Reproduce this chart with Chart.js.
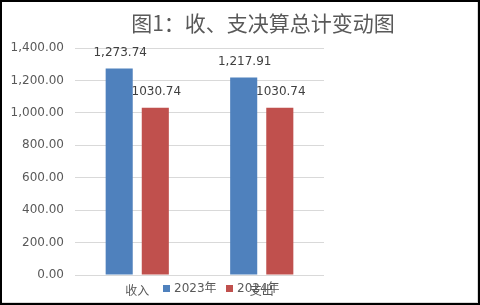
<!DOCTYPE html>
<html>
<head>
<meta charset="utf-8">
<script src="https://cdn.jsdelivr.net/npm/chart.js@4"></script>
<style>
  html, body { margin: 0; padding: 0; background: #fff; }
  #wrap { position: relative; width: 480px; height: 305px; }
  #frame {
    position: absolute; left: 0; top: 0; width: 480px; height: 305px;
    box-sizing: border-box; border: 2px solid #000; pointer-events: none;
    box-shadow: inset -1px -1px 0 #d9d9d9;
  }
</style>
</head>
<body>
<div id="wrap">
  <canvas id="chart" width="480" height="305"></canvas>
  <div id="frame"></div>
</div>
<script>
// chart data
const titleText = '图1：收、支决算总计变动图';
const categories = ['收入', '支出'];
const seriesNames = ['2023年', '2024年'];
const values2023 = [1273.74, 1217.91];
const values2024 = [1030.74, 1030.74];
const seriesColors = ['#4f81bd', '#c0504d'];
const yTicks = [0, 200, 400, 600, 800, 1000, 1200, 1400];

const fmtGrouped = v => v.toLocaleString('en-US', { minimumFractionDigits: 2, maximumFractionDigits: 2 });
const fmtPlain = v => v.toFixed(2);
// 2023 labels use thousands separator, 2024 labels do not (as in the picture)
const labelFormats = [fmtGrouped, fmtPlain];

const CJK = '"Noto Sans CJK SC", "DejaVu Sans", sans-serif';
const NUM = '"DejaVu Sans", "Noto Sans CJK SC", sans-serif';

// title, data labels, legend drawn by hand
const extras = {
    id: 'extras',
    afterDatasetsDraw(chart) {
        const ctx = chart.ctx;
        ctx.save();
        ctx.font = '12px ' + NUM;
        ctx.fillStyle = '#404040';
        ctx.textAlign = 'center';
        ctx.textBaseline = 'middle';
        chart.data.datasets.forEach((ds, i) => {
            const meta = chart.getDatasetMeta(i);
            meta.data.forEach((bar, j) => {
                ctx.fillText(labelFormats[i](ds.data[j]), bar.x + 1, bar.y - 16);
            });
        });
        ctx.restore();
    },
    afterDraw(chart) {
        const ctx = chart.ctx;
        ctx.save();
        // title
        ctx.font = '21px ' + CJK;
        ctx.fillStyle = '#595959';
        ctx.textAlign = 'center';
        ctx.textBaseline = 'middle';
        ctx.fillText(titleText, 263, 23);

        // legend (overlaps the category labels like the original)
        const legendX = [163, 226];
        ctx.font = '12px ' + NUM;
        ctx.textAlign = 'left';
        seriesNames.forEach((name, i) => {
            ctx.fillStyle = seriesColors[i];
            ctx.fillRect(legendX[i], 285, 7, 7);
            ctx.fillStyle = '#595959';
            ctx.fillText(name, legendX[i] + 11, 289);
        });
        ctx.restore();
    }
};

new Chart(document.getElementById('chart'), {
    type: 'bar',
    data: {
        labels: categories,
        datasets: [
            { label: seriesNames[0], data: values2023, backgroundColor: seriesColors[0] },
            { label: seriesNames[1], data: values2024, backgroundColor: seriesColors[1] }
        ]
    },
    plugins: [extras],
    options: {
        responsive: false,
        animation: false,
        events: [],
        layout: { padding: { left: 0, right: 156, top: 48, bottom: 0 } },
        datasets: { bar: { categoryPercentage: 0.58, barPercentage: 0.75 } },
        plugins: {
            legend: { display: false },
            title: { display: false },
            tooltip: { enabled: false }
        },
        scales: {
            x: {
                grid: { display: false, drawTicks: false },
                border: { display: false },
                ticks: { color: '#595959', font: { size: 12, family: CJK }, padding: 8 },
                afterFit(scale) { scale.height = 30; }
            },
            y: {
                min: 0,
                max: 1400,
                afterBuildTicks(axis) { axis.ticks = yTicks.map(v => ({ value: v })); },
                grid: { color: '#d9d9d9', lineWidth: 1, drawTicks: false },
                border: { display: false },
                ticks: {
                    color: '#595959',
                    font: { size: 12, family: NUM },
                    padding: 11,
                    callback: v => fmtGrouped(v)
                },
                afterFit(scale) { scale.width = 75; }
            }
        }
    }
});
</script>
</body>
</html>
